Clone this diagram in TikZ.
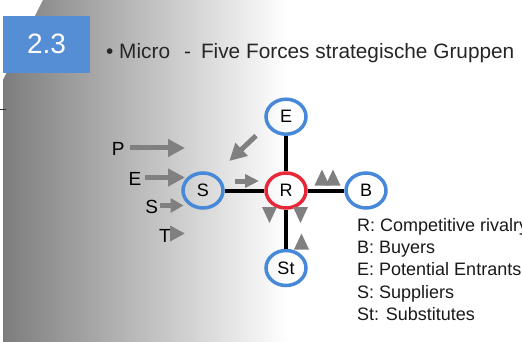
\documentclass[tikz,border=0pt]{standalone}
\usepackage{fontspec}
\setmainfont{Liberation Sans}
\usetikzlibrary{arrows.meta,shapes.geometric}
\definecolor{slideblue}{RGB}{85,142,213}
\definecolor{ringblue}{RGB}{72,136,216}
\definecolor{ringred}{RGB}{232,40,56}
\definecolor{forcegray}{RGB}{128,128,128}
\definecolor{panelgray}{RGB}{125,125,125}
\pgfdeclarehorizontalshading{panelshade}{100bp}{color(0bp)=(panelgray);
  color(25bp)=(panelgray); color(66bp)=(white); color(100bp)=(white)}
\begin{document}
\begin{tikzpicture}
[x=1pt,y=-1pt,
  ringdecorate/.style={shape=ellipse,inner sep=0pt,minimum width=40pt,
    minimum height=35pt,draw=ringblue,line width=3.5pt,
    font=\fontsize{18}{18}\selectfont},%
  linedecorate/.style={-,line width=4pt},%
  forcedecorate/.style={draw=forcegray,line width=5pt,
    -{Triangle[length=17pt,width=17pt]}},%
  labeldecorate/.style={inner sep=0pt,font=\fontsize{19}{19}\selectfont}]
\clip (0,0) rectangle (522,342);
%% slide background
\shade[shading=panelshade]
  (43,0) -- (350,0) -- (350,342) -- (3,342) -- (3,80) -- cycle;
\draw[black!80,line width=1pt] (0,109.3) -- (6,109.3);
\fill[slideblue] (3,16) rectangle (90,73.3);
\node (num) at (46.5,44) [inner sep=0pt,text=white,
  font=\fontsize{28}{28}\selectfont] {2.3};
\node (title) at (106,59) [anchor=base west,inner sep=0pt,text=black!85,
  font=\fontsize{20.8}{20.8}\selectfont]
  {\textbullet\ Micro\hspace{14pt}-\hspace{10pt}Five Forces strategische Gruppen};
%% nodes or vertices
\foreach \nodename/\x/\y in {E/286/116.7, S/203/190.5, B/366/190.5, St/286/268} {
  \node (\nodename) at (\x,\y) [ringdecorate] {\nodename};
}
\node (R) at (286,190.5) [ringdecorate,draw=ringred] {R};
%% edges or lines
\path
\foreach \startnode/\endnode in {R/E, R/S, R/B, R/St} {
  (\startnode) edge[linedecorate] (\endnode)
};
%% forces
\foreach \nodename/\txt/\x/\y in {lP/P/118.3/149.3, lE/E/135/179,
  lS/S/151.7/206.7, lT/T/165/235.7} {
  \node (\nodename) at (\x,\y) [labeldecorate] {\txt};
}
\foreach \nodename/\x/\y in {sP/130/148, tP/185/148, sE/145/177.5,
  tE/185/177.5, sS/160/205.5, tS/183.5/205.5, sT/170/233.5, tT/185/233.5,
  sR/235/181, tR/259/181, sD/256/135.7, tD/229.3/161} {
  \coordinate (\nodename) at (\x,\y);
}
\foreach \startnode/\endnode/\len/\wid in {sP/tP/17/17, sE/tE/17/17,
  sS/tS/13/14, sT/tT/15/15, sR/tR/14/13, sD/tD/17/17} {
  \draw[forcedecorate,-{Triangle[length=\len pt,width=\wid pt]}]
    (\startnode) -- (\endnode);
}
\foreach \cx/\cy/\s in {322/177.5/-1, 333/177.5/-1, 269.5/215/1,
  300.5/215/1, 301.5/241.5/-1} {
  \fill[forcegray] (\cx-7.5,\cy-8*\s) -- (\cx+7.5,\cy-8*\s)
    -- (\cx,\cy+8*\s) -- cycle;
}
%% legend
\foreach \i/\txt in {0/R: Competitive rivalry, 1/B: Buyers,
  2/E: Potential Entrants, 3/S: Suppliers, 4/St: Substitutes} {
  \node (legend\i) at (357,231.7+22.1*\i) [anchor=base west,inner sep=0pt,
    text=black!90,font=\fontsize{18}{18}\selectfont] {\txt};
}
\end{tikzpicture}
\end{document}
